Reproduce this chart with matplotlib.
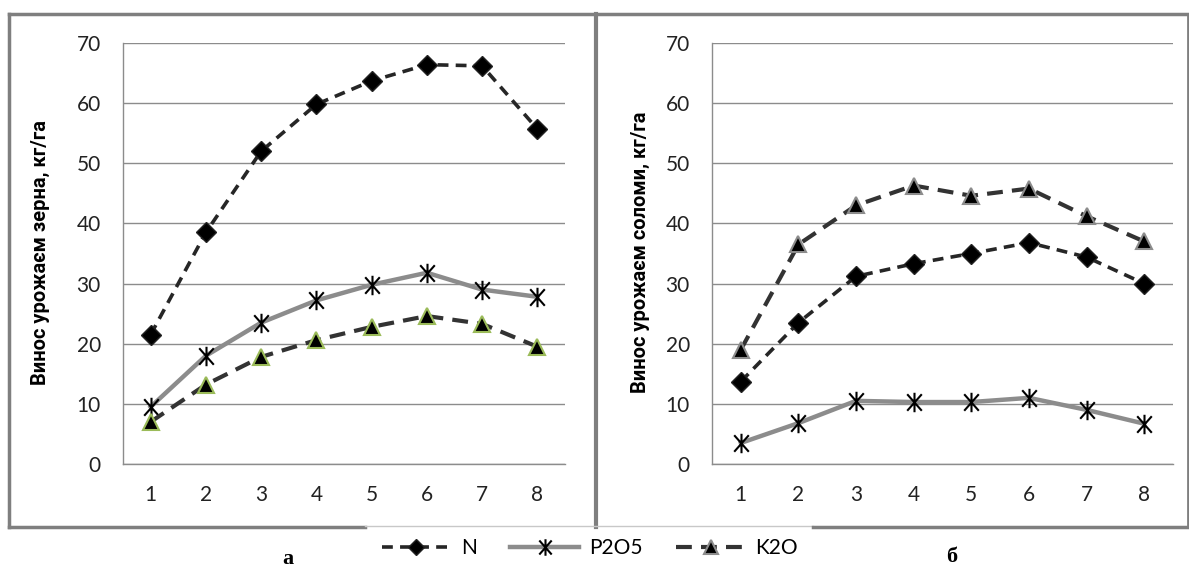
import matplotlib
matplotlib.use("Agg")
import matplotlib.pyplot as plt
from matplotlib.path import Path
from matplotlib.lines import Line2D

categories = [1, 2, 3, 4, 5, 6, 7, 8]
grain_N = [21.5, 38.5, 52.0, 59.8, 63.7, 66.4, 66.2, 55.7]
grain_P2O5 = [9.5, 18.0, 23.5, 27.2, 29.8, 31.8, 29.0, 27.8]
grain_K2O = [7.0, 13.2, 17.8, 20.6, 22.8, 24.6, 23.3, 19.5]
straw_N = [13.7, 23.5, 31.2, 33.3, 35.0, 36.8, 34.4, 30.0]
straw_P2O5 = [3.5, 6.8, 10.5, 10.3, 10.3, 11.0, 9.0, 6.7]
straw_K2O = [19.0, 36.5, 43.0, 46.3, 44.6, 45.8, 41.2, 37.0]
series_names = ["N", "P2O5", "K2O"]
ylabels = ["Винос урожаєм зерна, кг/га", "Винос урожаєм соломи, кг/га"]
panel_labels = ["а", "б"]
yticks = [0, 10, 20, 30, 40, 50, 60, 70]

FONT = ["Lato", "DejaVu Sans"]
plt.rcParams["font.family"] = FONT

# asterisk marker: vertical + two diagonals
ast = Path([(0, -1), (0, 1), (-0.75, -0.85), (0.75, 0.85), (-0.75, 0.85), (0.75, -0.85)],
           [Path.MOVETO, Path.LINETO, Path.MOVETO, Path.LINETO, Path.MOVETO, Path.LINETO])

W, H = 1189, 572
fig = plt.figure(figsize=(W / 100, H / 100), dpi=100)

def fx(px):
    return px / W

def fy(py):
    return 1 - py / H

ax1 = fig.add_axes([fx(123), fy(464), fx(565 - 123), (464 - 43) / H])
ax2 = fig.add_axes([fx(712), fy(464), fx(1173 - 712), (464 - 43) / H])

N_style = dict(color="#262626", lw=2.6, ls=(0, (3, 2)), marker="D", ms=10,
               mfc="black", mec="#222222", mew=1, zorder=4)
P_style = dict(color="#8c8c8c", lw=3.2, ls="-", marker=ast, ms=14,
               mec="black", mew=1.5, zorder=3)
K_style = dict(color="#333333", lw=3.0, ls=(0, (3.8, 2.2)), marker="^", ms=12,
               mfc="black", mew=1.5, zorder=5)

data = [(ax1, grain_N, grain_P2O5, grain_K2O, "#9bbb59"),
        (ax2, straw_N, straw_P2O5, straw_K2O, "#8c8c8c")]
label_x = [40, 640]
for i, (ax, n, p, k, kedge) in enumerate(data):
    ax.plot(categories, p, label=series_names[1], **P_style)
    ax.plot(categories, k, label=series_names[2], mec=kedge, **K_style)
    ax.plot(categories, n, label=series_names[0], **N_style)
    ax.set_xlim(0.5, 8.5)
    ax.set_ylim(0, 70)
    ax.set_yticks(yticks)
    ax.set_xticks(categories)
    ax.yaxis.grid(True, color="#8c8c8c", lw=1)
    ax.set_axisbelow(True)
    for s in ["top", "right"]:
        ax.spines[s].set_visible(False)
    for s in ["left", "bottom"]:
        ax.spines[s].set_color("#8c8c8c")
        ax.spines[s].set_linewidth(1)
    ax.tick_params(length=0, labelsize=15, colors="#222222")
    ax.tick_params(axis="y", pad=16)
    ax.tick_params(axis="x", pad=15)
    fig.text(fx(label_x[i]), fy(252), ylabels[i], rotation=90, fontsize=14.5,
             fontweight="bold", family=["Roboto", "DejaVu Sans"],
             ha="center", va="center", color="black")

# panel frames
frame_c = "#7f7f7f"
lines = [
    ([9, 1189], [14, 14], frame_c, 2.5),
    ([9, 9], [14, 527], frame_c, 2.5),
    ([596, 596], [14, 527], frame_c, 3),
    ([1188, 1188], [14, 527], frame_c, 2),
    ([9, 365], [527, 527], frame_c, 2.5),
    ([365, 813], [526, 526], "#c8c8c8", 1),
    ([813, 1189], [527, 527], frame_c, 2.5),
]
for xs, ys, c, lw in lines:
    fig.add_artist(Line2D([fx(x) for x in xs], [fy(y) for y in ys], color=c, lw=lw))

fig.text(fx(288), fy(559), panel_labels[0], fontsize=16, fontweight="bold",
         family="Liberation Serif", ha="center", va="center")
fig.text(fx(952), fy(557), panel_labels[1], fontsize=16, fontweight="bold",
         family="Liberation Serif", ha="center", va="center")

h_n = Line2D([], [], **N_style)
h_p = Line2D([], [], **P_style)
h_k = Line2D([], [], mec="#8c8c8c", **K_style)
fig.legend([h_n, h_p, h_k], series_names, loc="center", bbox_to_anchor=(fx(590), fy(548)),
           ncol=3, frameon=False, fontsize=15, handlelength=3.3, columnspacing=1.6,
           handletextpad=0.5, markerscale=0.85)

fig.savefig("out.png", dpi=100)
